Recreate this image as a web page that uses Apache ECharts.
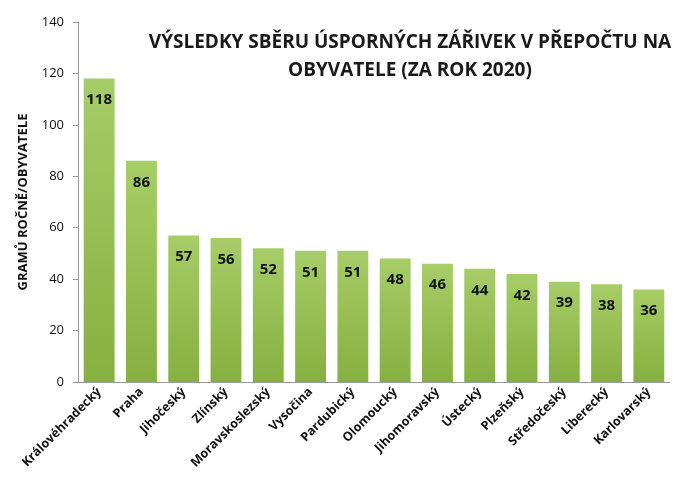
<!DOCTYPE html>
<html><head><meta charset="utf-8">
<script src="https://cdn.jsdelivr.net/npm/echarts@6/dist/echarts.min.js"></script>
<style>html,body{margin:0;background:#fff}#c{width:680px;height:489px}</style>
</head><body><div id="c"></div>
<script>
const categories=["Královéhradecký","Praha","Jihočeský","Zlínský","Moravskoslezský","Vysočina","Pardubický","Olomoucký","Jihomoravský","Ústecký","Plzeňský","Středočeský","Liberecký","Karlovarský"];
const values=[118,86,57,56,52,51,51,48,46,44,42,39,38,36];
const labels=[118,86,57,56,52,51,51,48,46,44,42,39,38,36];
const chart=echarts.init(document.getElementById('c'));
chart.setOption({
 animation:false,
 title:{text:"VÝSLEDKY SBĚRU ÚSPORNÝCH ZÁŘIVEK V PŘEPOČTU NA\nOBYVATELE (ZA ROK 2020)",left:405,top:24,textAlign:'center',
  textStyle:{fontFamily:'Open Sans',fontWeight:'bold',fontSize:19,color:'#1a1a1a',lineHeight:28}},
 grid:{left:78,right:10,top:22,bottom:107},
 xAxis:{type:'category',data:categories,axisTick:{show:false},
  axisLine:{lineStyle:{color:'#999'}},
  axisLabel:{rotate:45,interval:0,fontFamily:'Open Sans',fontWeight:'bold',fontSize:12.5,color:'#111',margin:8}},
 yAxis:{type:'value',min:0,max:140,interval:20,name:'GRAMŮ ROČNĚ/OBYVATELE',nameLocation:'middle',nameGap:48,
  nameTextStyle:{fontFamily:'Open Sans',fontWeight:'bold',fontSize:13,color:'#111'},
  axisLine:{show:true,lineStyle:{color:'#999'}},axisTick:{show:true,inside:false,length:5,lineStyle:{color:'#999'}},
  splitLine:{show:false},axisLabel:{fontFamily:'Open Sans',fontSize:13,color:'#111',margin:14}},
 series:[{type:'bar',data:values.map((v,i)=>({value:v,label:{formatter:String(labels[i])}})),barWidth:'73%',
  itemStyle:{color:new echarts.graphic.LinearGradient(0,0,0,1,[{offset:0,color:'#a6cd67'},{offset:1,color:'#86b040'}])},
  label:{show:true,position:'insideTop',distance:14,fontFamily:'Open Sans',fontWeight:'bold',fontSize:15,color:'#111'}}]
});
</script></body></html>
